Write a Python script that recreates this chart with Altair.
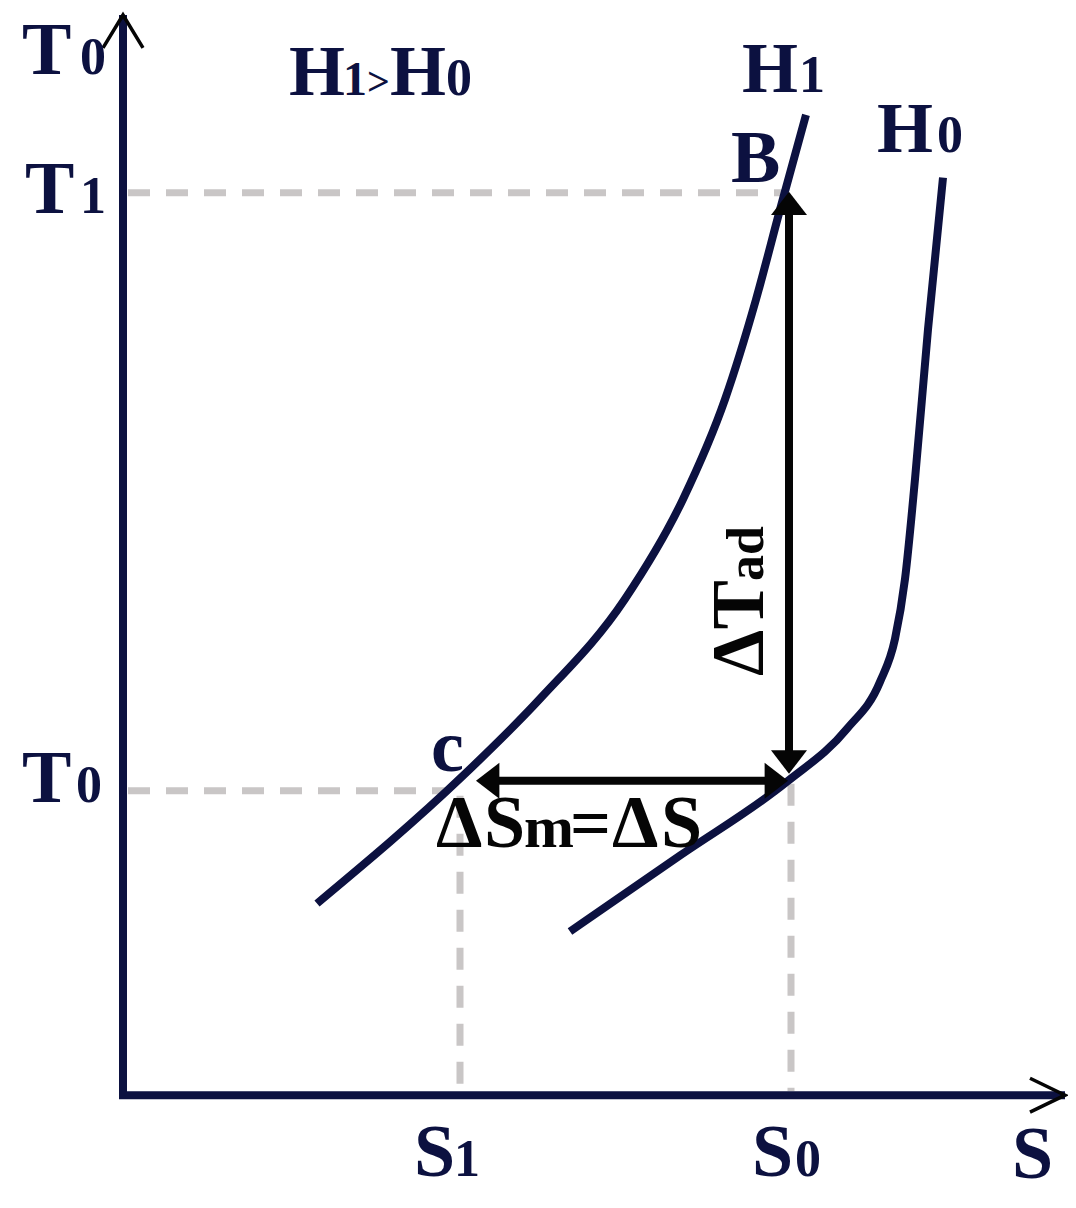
import altair as alt
import pandas as pd

NAVY = "#0c1140"
GRAY = "#c9c6c6"
BLACK = "#050505"
FONT = "Liberation Serif"

# ---- diagram data (S runs right, T coordinate runs downward in picture units) ----
h1_s = [317, 462, 540, 625, 683, 725, 756, 780, 806]
h1_t = [905, 778, 700, 600, 500, 400, 300, 210, 115]
h0_s = [570, 680, 787, 847, 880, 895, 905, 915, 928, 943]
h0_t = [933, 857, 783, 730, 683, 640, 580, 480, 330, 178]

axis_s = [123, 123, 1065]
axis_t = [15, 1097, 1097]
yarrow_s = [103, 123, 143]
yarrow_t = [48, 15, 48]
xarrow_s = [1030, 1065, 1030]
xarrow_t = [1080, 1097, 1114]

guide_names = ["T1", "T0", "S1", "S0"]
guide_s1 = [128, 128, 460, 791]
guide_t1 = [193, 792, 797, 785]
guide_s2 = [783, 447, 460, 791]
guide_t2 = [193, 792, 1093, 1093]

shaft_s1 = [789, 495]
shaft_t1 = [212, 782]
shaft_s2 = [789, 765]
shaft_t2 = [754, 782]

head_up = (789, 192)
head_down = (789, 775)
head_left = (476, 782)
head_right = (788, 782)

label_text = ["T", "0", "T", "1", "T", "0",
              "H", "1", ">", "H", "0",
              "H", "1", "B", "H", "0", "c",
              "S", "1", "S", "0", "S"]
label_s = [22, 80, 25, 80, 22, 76,
           289, 343, 367, 390, 446,
           742, 799, 731, 877, 937, 431,
           414, 454, 752, 795, 1012]
label_t = [74, 74, 213, 213, 803, 803,
           95, 95, 95, 95, 95,
           92, 92, 182, 152, 152, 772,
           1178, 1178, 1178, 1178, 1180]
label_size = [74, 52, 74, 52, 74, 52,
              72, 48, 40, 72, 52,
              72, 52, 74, 72, 52, 74,
              74, 52, 74, 52, 74]

blk_text = ["Δ", "S", "m", "=", "Δ", "S", "ΔT", "ad"]
blk_s = [436, 484, 524, 570, 612, 661, 763, 763]
blk_t = [848, 848, 848, 848, 848, 848, 677, 582]
blk_size = [74, 74, 60, 72, 74, 74, 74, 52]
blk_angle = [0, 0, 0, 0, 0, 0, 270, 270]

# ---- scales ----
xs = alt.Scale(domain=[8, 1068], zero=False, nice=False)
ys = alt.Scale(domain=[8, 1200], zero=False, nice=False, reverse=True)


def X(f):
    return alt.X(f, type="quantitative", scale=xs, axis=None)


def Y(f):
    return alt.Y(f, type="quantitative", scale=ys, axis=None)


def poly(name, s, t):
    return pd.DataFrame({"name": name, "s": s, "t": t, "i": list(range(len(s)))})


curves = pd.concat([poly("H1", h1_s, h1_t), poly("H0", h0_s, h0_t)])
axes = poly("axes", axis_s, axis_t)
chevrons = pd.concat([poly("ya", yarrow_s, yarrow_t), poly("xa", xarrow_s, xarrow_t)])
guides = pd.DataFrame({"name": guide_names, "s1": guide_s1, "t1": guide_t1,
                       "s2": guide_s2, "t2": guide_t2})
shafts = pd.DataFrame({"s1": shaft_s1, "t1": shaft_t1, "s2": shaft_s2, "t2": shaft_t2})
labels = pd.DataFrame({"text": label_text, "s": label_s, "t": label_t, "size": label_size})
blk = pd.DataFrame({"text": blk_text, "s": blk_s, "t": blk_t, "size": blk_size,
                    "angle": blk_angle})

guide_layer = alt.Chart(guides).mark_rule(
    color=GRAY, strokeWidth=7, strokeDash=[22, 16]
).encode(x=X("s1"), y=Y("t1"), x2="s2", y2="t2")

curve_layer = alt.Chart(curves).mark_line(
    color=NAVY, strokeWidth=8, interpolate="monotone", strokeCap="butt"
).encode(x=X("s"), y=Y("t"), detail="name:N", order="i:Q")

axis_layer = alt.Chart(axes).mark_line(
    color=NAVY, strokeWidth=8, strokeJoin="miter", strokeCap="butt"
).encode(x=X("s"), y=Y("t"), order="i:Q")

chevron_layer = alt.Chart(chevrons).mark_line(
    color=BLACK, strokeWidth=3.5, strokeJoin="miter"
).encode(x=X("s"), y=Y("t"), detail="name:N", order="i:Q")

shaft_layer = alt.Chart(shafts).mark_rule(
    color=BLACK, strokeWidth=8
).encode(x=X("s1"), y=Y("t1"), x2="s2", y2="t2")


def head(pt, path):
    df = pd.DataFrame({"s": [pt[0]], "t": [pt[1]]})
    return alt.Chart(df).mark_point(
        shape=path, filled=True, color=BLACK, opacity=1, size=1296, strokeWidth=0
    ).encode(x=X("s"), y=Y("t"))


heads = [
    head(head_up, "M0,0L-1,1.3L1,1.3Z"),
    head(head_down, "M0,0L-1,-1.3L1,-1.3Z"),
    head(head_left, "M0,0L1.3,-1L1.3,1Z"),
    head(head_right, "M0,0L-1.3,-1L-1.3,1Z"),
]

label_layer = alt.Chart(labels).mark_text(
    font=FONT, fontWeight="bold", color=NAVY, align="left", baseline="alphabetic"
).encode(x=X("s"), y=Y("t"), text="text:N", size=alt.Size("size:Q", scale=None, legend=None))

blk_layer = alt.Chart(blk).mark_text(
    font=FONT, fontWeight="bold", color=BLACK, align="left", baseline="alphabetic"
).encode(x=X("s"), y=Y("t"), text="text:N",
         size=alt.Size("size:Q", scale=None, legend=None),
         angle=alt.Angle("angle:Q", scale=None))

chart = alt.layer(
    guide_layer, curve_layer, axis_layer, chevron_layer, shaft_layer, *heads,
    label_layer, blk_layer
).properties(
    width=1060, height=1190, padding=0,
    autosize=alt.AutoSizeParams(type="none"),
    background="white",
).configure_view(stroke=None)

chart.save("out.html", embed_options={"renderer": "svg", "actions": False})
